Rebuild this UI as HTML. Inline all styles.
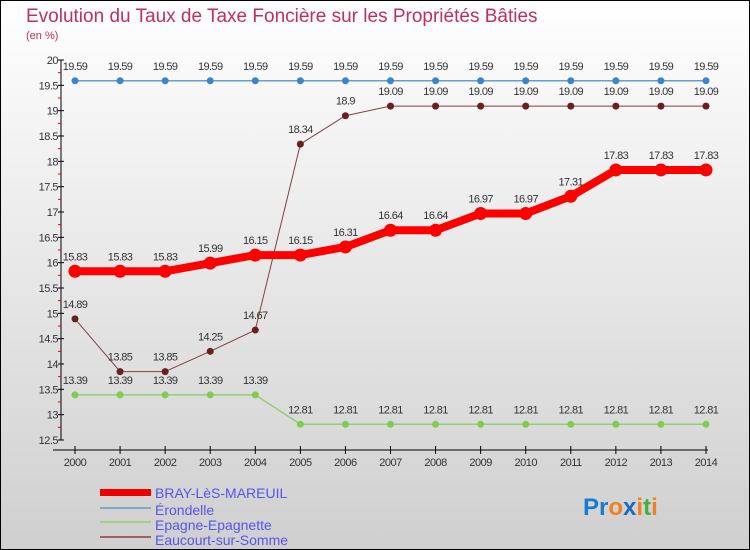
<!DOCTYPE html>
<html><head><meta charset="utf-8"><style>
body{margin:0}
svg{display:block;font-family:"Liberation Sans",sans-serif}
</style></head><body>
<svg id="c" width="750" height="550" xmlns="http://www.w3.org/2000/svg">
<defs><linearGradient id="bg" x1="0" y1="0" x2="0" y2="1"><stop offset="0" stop-color="#ffffff"/><stop offset="1" stop-color="#cfcfcf"/></linearGradient></defs>
<rect x="0.5" y="0.5" width="749" height="549" fill="url(#bg)" stroke="#000"/>
<text x="26" y="22" font-size="19" fill="#c0305a">Evolution du Taux de Taxe Foncière sur les Propriétés Bâties</text>
<text x="26" y="39" font-size="11" fill="#c0305a">(en %)</text>
<g id="axes"></g><g id="series"></g>
<g>
<rect x="100" y="489" width="51" height="7" fill="#e00"/>
<text x="155" y="498" font-size="14" fill="#5555ee">BRAY-LèS-MAREUIL</text>
<rect x="100" y="507" width="51" height="2" fill="#80a8cc"/>
<text x="155" y="515" font-size="14" fill="#5555ee">Érondelle</text>
<rect x="100" y="521" width="51" height="2" fill="#a0d080"/>
<text x="155" y="530" font-size="14" fill="#5555ee">Epagne-Epagnette</text>
<rect x="100" y="536" width="51" height="2" fill="#a06060"/>
<text x="155" y="545" font-size="14" fill="#5555ee">Eaucourt-sur-Somme</text>
</g>
<text x="583" y="515" font-size="24" font-weight="bold"><tspan fill="#1a7ad0">Pr</tspan><tspan fill="#f08020">o</tspan><tspan fill="#1a6ac0">x</tspan><tspan fill="#f08020">i</tspan><tspan fill="#40b040">t</tspan><tspan fill="#f08020">i</tspan></text>
</svg>
<script>
const years=[2000,2001,2002,2003,2004,2005,2006,2007,2008,2009,2010,2011,2012,2013,2014];
const bray=[15.83,15.83,15.83,15.99,16.15,16.15,16.31,16.64,16.64,16.97,16.97,17.31,17.83,17.83,17.83];
const erondelle=[19.59,19.59,19.59,19.59,19.59,19.59,19.59,19.59,19.59,19.59,19.59,19.59,19.59,19.59,19.59];
const epagne=[13.39,13.39,13.39,13.39,13.39,12.81,12.81,12.81,12.81,12.81,12.81,12.81,12.81,12.81,12.81];
const eaucourt=[14.89,13.85,13.85,14.25,14.67,18.34,18.9,19.09,19.09,19.09,19.09,19.09,19.09,19.09,19.09];
const yTicks=[12.5,13,13.5,14,14.5,15,15.5,16,16.5,17,17.5,18,18.5,19,19.5,20];
const NS='http://www.w3.org/2000/svg';
const xS=i=>75+i*(631/14);
const yS=v=>60+(20-v)*(380/7.5);
function mk(t,a,p){const e=document.createElementNS(NS,t);for(const k in a)e.setAttribute(k,a[k]);p.appendChild(e);return e;}
const ax=document.getElementById('axes'),sr=document.getElementById('series');
const ya=mk('line',{x1:61,y1:60,x2:61,y2:440,stroke:'#000'},ax);


yTicks.forEach(v=>{const y=yS(v);mk('line',{x1:58,y1:y,x2:64,y2:y,stroke:'#000'},ax);
 if(v<20)mk('line',{x1:58,y1:yS(v+0.25),x2:61,y2:yS(v+0.25),stroke:'#e00'},ax);
 const t=mk('text',{x:58,y:y+4,'font-size':11,'text-anchor':'end',fill:'#333','letter-spacing':'-0.5'},ax);t.textContent=String(v);
 
 });
const xa=mk('line',{x1:53,y1:450,x2:708,y2:450,stroke:'#000'},ax);


years.forEach((yr,i)=>{const x=xS(i);mk('line',{x1:x,y1:446,x2:x,y2:454,stroke:'#000'},ax);
 const t=mk('text',{x:x,y:466,'font-size':11,'text-anchor':'middle',fill:'#333','letter-spacing':'-0.5'},ax);t.textContent=yr;
 
 });
function series(d,col,w,r,name,dot){
 const g=mk('g',{},sr);
 
 
 mk('polyline',{points:d.map((v,i)=>xS(i)+','+yS(v)).join(' '),fill:'none',stroke:col,'stroke-width':w,'stroke-linejoin':'round'},g);
 d.forEach((v,i)=>{const c=mk('circle',{cx:xS(i),cy:yS(v),r:r,fill:dot},g);
  
  
  const t=mk('text',{x:xS(i),y:yS(v)-11,'font-size':11,'text-anchor':'middle',fill:'#333','letter-spacing':'-0.6'},g);t.textContent=v;
  
  });
}
series(erondelle,'#6a9ccc',1.5,3.5,'series-erondelle','#3a86c8');
series(epagne,'#90d070',1.5,3.5,'series-epagne','#80cc50');
series(eaucourt,'#804040',1,3.5,'series-eaucourt','#6a1f1f');
series(bray,'#ff0000',8,6.5,'series-bray','#ff0000');
</script>
</body></html>
